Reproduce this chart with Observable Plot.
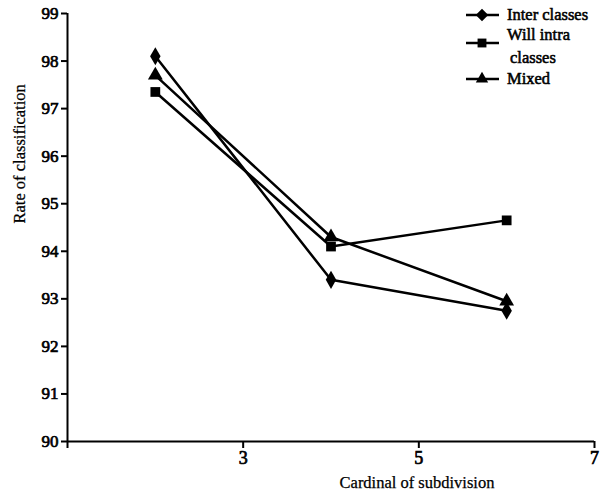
<!DOCTYPE html>
<html>
<head>
<meta charset="utf-8">
<script src="https://cdn.jsdelivr.net/npm/d3@7"></script>
<script src="https://cdn.jsdelivr.net/npm/@observablehq/plot@0.6"></script>
<style>
  body { margin: 0; background: #fff; }
  #wrap { position: relative; width: 613px; height: 497px; font-family: "Liberation Serif", serif; }
  #wrap svg text { font-family: "Liberation Serif", serif; font-weight: normal; }
  #wrap svg [aria-label="y-axis tick label"] text,
  #wrap svg [aria-label="x-axis tick label"] text { stroke: #000; stroke-width: 0.7px; }
  #wrap svg .title text { stroke: #000; stroke-width: 0.25px; }
  #legend { position: absolute; left: 0; top: 0; }
  #legend text { stroke: #000; stroke-width: 0.55px; }
</style>
</head>
<body>
<div id="wrap"></div>
<script>
const cardinals = [2, 4, 6];
const interClasses = [98.1, 93.4, 92.75];
const willIntraClasses = [97.35, 94.1, 94.65];
const mixed = [97.7, 94.3, 92.95];
const seriesNames = ["Inter classes", "Will intra classes", "Mixed"];
const seriesSymbols = ["diamond", "square", "triangle"];
const xTicks = [1, 3, 5, 7];
const yTicks = [90, 91, 92, 93, 94, 95, 96, 97, 98, 99];

const seriesValues = [interClasses, willIntraClasses, mixed];
const rows = [];
seriesNames.forEach((s, i) => cardinals.forEach((c, j) => rows.push({series: s, x: c, y: seriesValues[i][j]})));

const font = "'Liberation Serif', serif";
const chart = Plot.plot({
  width: 613, height: 497,
  marginLeft: 67, marginRight: 19, marginTop: 13, marginBottom: 56,
  style: {fontFamily: font, fontSize: "16px", color: "#000", background: "#fff"},
  x: {domain: [1, 7]},
  y: {domain: [90, 99]},
  symbol: {domain: seriesNames, range: seriesSymbols},
  marks: [
    Plot.ruleY([90], {stroke: "#000", strokeWidth: 2}),
    Plot.ruleX([1], {stroke: "#000", strokeWidth: 2}),
    Plot.axisX({ticks: xTicks, tickFormat: d => d === 1 ? "" : String(d), tickSize: 7, tickPadding: 3, strokeWidth: 2, fontSize: 18, label: null}),
    Plot.axisY({ticks: yTicks, tickSize: 6, tickPadding: 3, strokeWidth: 2, fontSize: 17, label: null}),
    Plot.text(["Cardinal of subdivision"], {frameAnchor: "bottom", dx: 86, dy: 46, fontSize: 16.5, fill: "#000", className: "title"}),
    Plot.text(["Rate of classification"], {frameAnchor: "left", dx: -48, dy: -4, rotate: -90, fontSize: 16.5, fill: "#000", className: "title"}),
    Plot.line(rows, {x: "x", y: "y", z: "series", stroke: "#000", strokeWidth: 2.5}),
    Plot.dot(rows, {x: "x", y: "y", symbol: "series", fill: "#000", stroke: "none", r: 5.5})
  ]
});
document.getElementById("wrap").appendChild(chart);

// legend overlay
const legendY = [15, 43, 79];
const svg = d3.select("#wrap").append("svg").attr("id", "legend").attr("width", 613).attr("height", 100);
const symMap = {diamond: d3.symbolDiamond2, square: d3.symbolSquare2, triangle: d3.symbolTriangle2};
seriesNames.forEach((name, i) => {
  const g = svg.append("g").attr("transform", `translate(482,${legendY[i]})`);
  g.append("line").attr("x1", -16).attr("x2", 17).attr("stroke", "#000").attr("stroke-width", 2.5);
  g.append("path").attr("d", d3.symbol(symMap[seriesSymbols[i]], i === 2 ? 110 : 100)()).attr("fill", "#000");
});
const tx = svg.append("g").attr("font-size", 16.5).attr("fill", "#000");
tx.append("text").attr("x", 507).attr("y", 20).text("Inter classes");
tx.append("text").attr("x", 507).attr("y", 40).text("Will intra");
tx.append("text").attr("x", 510).attr("y", 63).text("classes");
tx.append("text").attr("x", 507).attr("y", 84).text("Mixed");
</script>
</body>
</html>
